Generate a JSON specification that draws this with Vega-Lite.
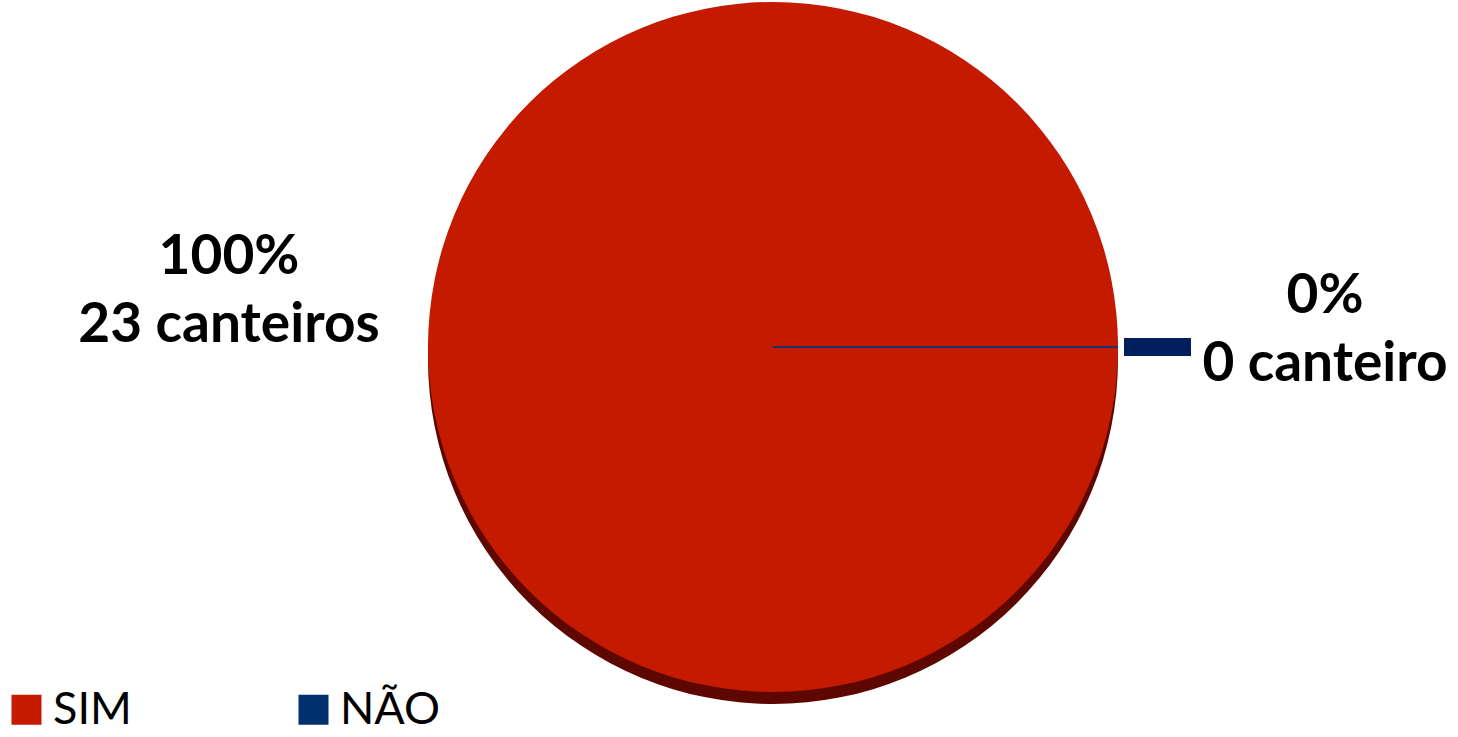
{
  "$schema": "https://vega.github.io/schema/vega-lite/v6.json",
  "width": 1370,
  "height": 694,
  "autosize": "none",
  "padding": {"left": 88, "top": 0, "right": 0, "bottom": 43},
  "background": "white",
  "config": {"view": {"stroke": null}},
  "data": {"values": [
    {"resposta": "SIM", "canteiros": 23, "rotulo": ["100%", "23 canteiros"]},
    {"resposta": "NÃO", "canteiros": 0, "rotulo": ["0%", "0 canteiro"]}
  ]},
  "encoding": {
    "theta": {"field": "canteiros", "type": "quantitative", "stack": true, "scale": {"range": [1.5708, 7.854]}}
  },
  "layer": [
    {
      "transform": [{"filter": "datum.resposta === 'SIM'"}],
      "mark": {"type": "arc", "radius": 345, "yOffset": 12, "fill": "#5E0700"},
      "encoding": {}
    },
    {
      "mark": {"type": "arc", "radius": 345},
      "encoding": {
        "color": {
          "field": "resposta", "type": "nominal",
          "sort": ["SIM", "NÃO"],
          "scale": {"domain": ["SIM", "NÃO"], "range": ["#C41A00", "#00306E"]},
          "legend": {
            "orient": "none", "legendX": -84, "legendY": 687,
            "direction": "horizontal", "columns": 2, "gridAlign": "all",
            "columnPadding": 137, "symbolType": "square", "symbolSize": 900,
            "symbolStrokeWidth": 0, "labelFontSize": 45, "labelFont": "Lato",
            "labelColor": "#000000", "labelOffset": 4, "title": null, "padding": 0
          }
        }
      }
    },
    {
      "transform": [{"filter": "datum.resposta === 'NÃO'"}],
      "mark": {"type": "arc", "radius": 345, "stroke": "#1F2F6A", "strokeWidth": 2, "fill": "#001F5C"},
      "encoding": {}
    },
    {
      "transform": [{"filter": "datum.resposta === 'NÃO'"}],
      "mark": {"type": "arc", "radius": 418, "radius2": 351, "stroke": "#001F5C", "strokeWidth": 18, "fill": "#001F5C"},
      "encoding": {}
    },
    {
      "transform": [{"filter": "datum.resposta === 'SIM'"}],
      "mark": {"type": "text", "radius": 544, "dy": -90, "font": "Lato", "fontWeight": "bold", "fontSize": 55, "lineHeight": 68, "align": "center", "baseline": "middle", "color": "#000000"},
      "encoding": {"text": {"field": "rotulo"}}
    },
    {
      "transform": [{"filter": "datum.resposta === 'NÃO'"}],
      "mark": {"type": "text", "radius": 552, "dy": -51, "font": "Lato", "fontWeight": "bold", "fontSize": 55, "lineHeight": 68, "align": "center", "baseline": "middle", "color": "#000000"},
      "encoding": {"text": {"field": "rotulo"}}
    }
  ]
}
